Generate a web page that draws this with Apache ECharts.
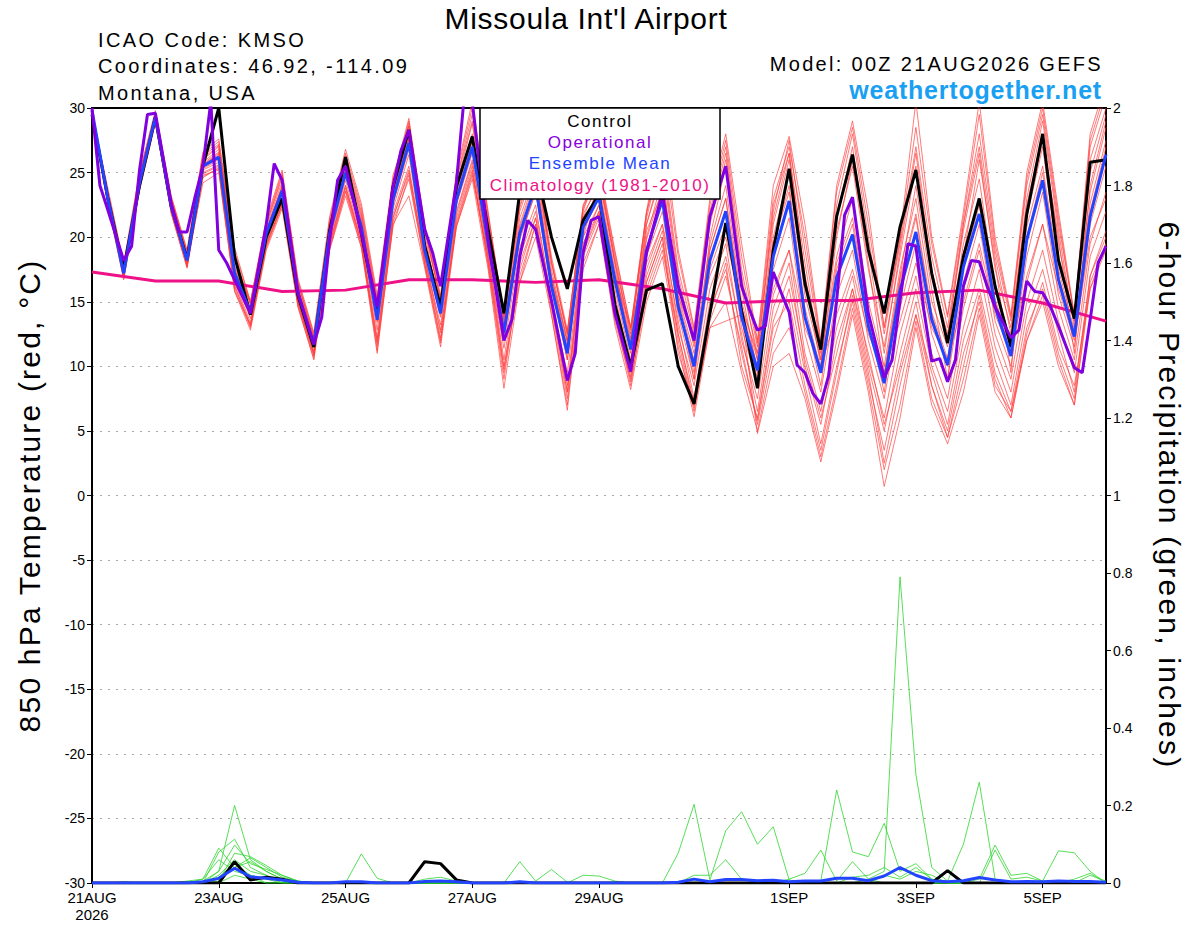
<!DOCTYPE html>
<html><head><meta charset="utf-8">
<script src="https://cdn.jsdelivr.net/npm/echarts@6/dist/echarts.min.js"></script>
<style>html,body{margin:0;padding:0;background:#fff}#c{width:1200px;height:927px}</style>
</head><body><div id="c"></div>
<script>
// ---------- DATA ----------
const stepHours = 6; // 6-hourly ensemble output, 65 steps from 00Z 21AUG
const tickHours = [0, 48, 96, 144, 192, 264, 312, 360];
const tickLabels = ['21AUG\n2026', '23AUG', '25AUG', '27AUG', '29AUG', '1SEP', '3SEP', '5SEP'];

// Ensemble mean (blue)
const meanTemp = [29.8,23,17.2,24.2,29.3,22.4,18.2,25.5,26.2,17.2,14.2,20.3,23.6,15.7,11.7,20.3,25,20.8,13.6,22.9,27.3,19,14.1,22.9,27,19.5,12.6,20.3,24,16.2,11,20.8,23.1,16.7,11.3,19,22.9,14.6,10,18.2,22,13.8,9.7,18.5,22.8,13.8,9.5,16.9,20.2,13.1,8.7,15.9,20.4,13.6,10.1,17.7,21.8,14.6,10.8,19.8,24.4,16.7,12.3,21.6,26.4];
// Control (black)
const controlTemp = [29.5,23,17.5,24,29.3,22.4,18.3,25.5,30,18.5,14,20,23,15.5,11.5,20.5,26.2,20.3,14.1,23.9,28.3,19.3,14.6,23.9,27.8,20.6,14.1,23.5,25.5,20,16,21.3,23.3,14.8,10,15.9,16.4,10,7.1,14.1,21.1,14.3,8.3,19,25.3,16.4,11.3,21.6,26.4,19,14.1,20.8,25.2,17.2,11.8,18.5,23,16.2,11.5,21.8,28,18.2,13.7,25.8,26];
// Operational (purple), 3-hourly where resolved
const opHours = [0,3,6,12,15,18,21,24,30,33,36,39,42,45,48,51,54,60,66,69,72,78,84,87,90,93,96,102,108,114,117,120,126,129,132,138,141,144,150,156,159,162,165,168,174,180,183,186,189,192,198,204,210,216,222,228,234,240,246,249,252,255,258,261,264,267,270,273,276,279,282,285,288,294,300,303,306,309,312,315,318,321,324,327,330,333,336,339,342,348,351,354,357,360,363,366,369,372,375,378,381,384];
const opTemp = [30,24,22.1,18.2,19.3,25.2,29.5,29.6,22.6,20.4,20.4,23.1,25.5,30.5,19,18,16.7,14.1,21,25.7,24.4,15.7,11.7,13.8,19.8,24.4,25.5,20.3,14.6,23.9,26.7,28.3,20.6,18.8,16.2,24.2,31,30.5,19.8,12,13.6,18.5,21.3,20.6,15.1,8.9,11,18.8,21.3,21.6,14.1,9.6,18.8,23.4,16.2,12,21.6,25.5,16.2,14.4,12.8,13.1,17.3,15.7,14.2,10.1,9.5,7.9,7.1,9.3,15.1,21.7,23.1,14.1,9.1,10.5,15.1,19.5,19.3,14.4,10.4,10.6,8.8,10.5,16.2,18.2,18.1,16.2,14.6,12.2,12.8,16.6,15.8,15.7,14.6,13.1,11.5,9.9,9.5,13.6,18,19.3];
// Climatology (daily)
const climHours = [0,24,48,72,96,120,144,168,192,216,240,264,288,312,336,360,384];
const climTemp = [17.3,16.6,16.6,15.8,15.9,16.7,16.7,16.5,16.7,16.0,14.9,15.1,15.1,15.7,15.9,14.9,13.5];

// Ensemble members (red)
const m1 = [29.6,23.5,17.8,24.8,29.6,23,18.8,26.3,27.2,18.6,14.8,21,24.6,16.4,12.3,21.2,26.3,22,15,24.2,29,20.5,15.3,24.5,29.5,21.5,14,22.5,26,18,12.5,22.5,25,18,12.8,21.5,26.5,17.5,12.5,22,27,17.5,11.5,22,27.5,19,11.5,22.5,28,20,12.5,19.5,27,18.5,13,21,28,19,13.5,24,29.5,21,14,27,31];
const m2 = [29.9,22.6,16.8,23.6,28.8,21.8,17.6,24.6,25.4,16,13,19.4,22.6,14.8,10.8,19.2,23.6,19.5,11.2,21.2,24.5,18,12,21,25,18,9.5,17,21,14.5,7.5,18.5,21.5,14,8.5,16,19.5,12,6.5,13.5,17,11.5,5.5,12,16,9.5,4,10,15,9,3.5,9.5,14,9.5,5.5,12,16,10.5,7,14,17.5,12.5,8,17,20.5];
const m3 = [29.7,23.2,17.5,24.5,29.4,22.8,18.5,25.8,26.8,17.8,14.5,20.6,24,16,12,20.8,25.4,21.2,14,23.5,28,19.6,14.8,23.6,28,20.2,13.2,21,24.8,17,11.8,21.8,24,17.5,12,20,24.5,15.5,11,19.5,24,15,10.5,20,25,15.5,10.5,18.5,23,15,10,17.5,23,15,11.5,19.5,24.5,16,12,21.5,27,18,13.5,23.5,28.5];
const m4 = [29.8,22.8,17,23.9,29,22.2,18,25.2,25.8,16.8,13.7,19.8,23,15.2,11.2,19.8,24.4,20,12.8,22.2,26.4,18.4,13.2,22,26,18.5,11.4,19.2,22.5,15,9.5,19.5,22,15.5,10,17.5,21,13,8.5,16,19.5,12,7.5,15.5,19,11,6.5,13,17,10.5,6,12.5,17,11,7.5,14.5,19,12.5,9,16.5,21,14.5,10.5,19.5,23.5];
const m5 = [29.5,23.8,18,25,29.8,23.2,19,26.6,27.6,19.2,15,21.4,25.2,16.8,12.6,21.6,26.8,22.6,15.5,24.8,28.6,21,15.5,25,30.5,22,13.8,23,26.5,18.5,12.8,22,25.5,19,13,22,28.8,19,13,23,28,19.5,12,24,27.8,21,12,24,29,22,13,20,30.5,20,14,22,30.5,20,14,25,30.5,22,14,28,32];
const m6 = [29.8,22.9,17.1,24,29.1,22,17.8,24.8,25.2,15.8,12.8,19,22.2,14.6,10.6,19,23.2,19.2,11,21,23.2,17.6,11.5,20.8,24.5,17.5,8.3,16.5,20,14,6.6,18,21,13.2,8.2,15,18.5,11.5,6.1,13,13.5,14,4.8,10,11,7.5,2.6,8,14,8,0.7,6,13,7,4,8,14,8,6,12,15,10,7,16,19];
const m7 = [29.7,23.3,17.4,24.3,29.5,22.6,18.4,25.6,26.4,17.5,14.3,20.4,23.8,15.9,11.9,20.5,25.2,21,14.5,23.5,27.5,19.8,14.5,23,27.5,20,12,20,23.5,16.5,10.5,21,23.8,17,11.5,20.5,23.5,15,9.5,19,23,14.5,9,19.5,23.5,14,8.5,17.5,21,13.5,8,16.5,21.5,14,10,18,22.5,15,11,20,25,17,12.5,22,27];
const m8 = [29.8,22.7,16.9,23.8,29,22.1,17.9,25,25.6,16.5,13.4,19.6,22.8,15,11,19.6,24,19.8,12.2,21.8,25.5,18.3,12.6,21.8,25.8,18.8,10.5,18.5,22,15.2,8.5,19.5,22.5,15,9.5,17,20.5,13.5,7.5,15,18.5,12.5,6.5,14.5,18,10,5.5,12,16,10,5,11,16,10,6.5,13,17.5,11.5,8,15,19,13.5,9.5,18.5,22];
const m9 = [29.6,23.4,17.6,24.6,29.6,22.9,18.6,26,27,18.2,14.8,20.8,24.3,16.2,12.2,21,25.8,21.6,14.6,24,28.6,20.2,14.4,24,28.8,21,13.5,22,25.5,17.5,12,21.5,24.5,18.5,12.5,21,25.5,16.5,11.5,21,26,16.5,11,21.5,26.5,17,11,20.5,25.5,17.5,11.5,18.5,25.5,17,12.5,20.5,26.5,17.5,13,22.5,28,19.5,13.5,25,29.5];
const m10 = [29.8,23,17.2,24.1,29.2,22.3,18.1,25.3,26,17,14,20.1,23.3,15.5,11.5,20.1,24.7,20.5,13.5,22.6,26.8,18.8,13.8,22.5,26.5,19.2,12.5,19.8,23.5,16,10.5,20.5,23,16,10.5,18.5,22,14,9,17.5,21,13,8.5,17.5,21.5,12.5,8,15.5,19,12,7.5,14.5,19.5,12.5,9,16.5,21,13.5,10,18.5,23.5,15.5,11.5,21,25.5];
const m11 = [29.8,22.8,17,24,29.2,22.5,18,24.2,25,15.8,13.2,19.5,22.5,15,11,19.5,24,19.5,11.8,21.5,25,18.5,12.8,20.8,24.8,18.5,10,16.5,21,15,8,19,22,14.5,9.2,16.5,20,12.5,7.2,14.5,17.5,11,5.8,13,15,8.5,3.5,9.5,15.5,9.5,2.5,8.5,14,8.5,4.5,10,15.5,9.5,6.5,13,16,11,7.5,17,20];
const m12 = [29.7,23.6,17.9,24.9,29.7,23.1,18.9,26.4,27.4,18.9,15,21.2,25,16.6,12.5,21.4,26.5,22.3,15.2,24.5,29.2,20.8,15,24.8,30,21.8,14,22.8,26.2,18.2,12.4,22.2,25.2,18.8,13,21.8,27.5,18.5,12.8,22.5,27.5,18.5,11.8,23,27,20,11.8,23.5,28.5,21,13,19.8,28.5,19.5,13.8,21.5,29.5,19.5,13.8,24.5,30,21.5,13.8,27.5,31.5];
const m13 = [29.7,23.1,17.3,24.4,29.4,22.6,18.3,25.6,26.5,17.4,14.4,20.5,23.9,15.9,11.8,20.6,25.5,21.4,13.8,23.2,27.8,19.4,14.2,23.4,27.8,19.8,12.8,21.5,25,16.8,11.5,20,24.5,18,11,21,25,15,9,20,25.5,16,9.5,21,26,17,10,20,26,18,9.5,17,24,16,9,18.5,26,18,9.5,22,27.5,20,11,24,29];
const m14 = [29.9,22.5,16.7,23.7,28.9,21.9,17.7,24.7,25.3,16.2,13.1,19.2,22.4,14.6,10.5,19.1,23.5,19.2,11.6,20.8,24.8,17.8,11.8,21.5,25.5,17.8,9,17.5,21.5,14,7,17.5,21,13.5,9,16.5,20,11,7,14,18,10,6,13.5,17,10.5,6,11,16,11,5.5,10,15,8.5,5,11,15,9,6,12.5,16.5,11.5,8.5,16,19.5];
const m15 = [29.8,23.1,17.3,24.2,29.3,22.5,18.3,25.4,26.1,17.1,14.1,20.2,23.5,15.6,11.6,20.2,24.8,20.6,13.4,22.8,27,19.2,14,22.6,26.8,19.8,13,20.5,23.8,17,12,20,22.5,17,13,18,21,15.5,12,17,20,14.5,11,16,19,13,10,14,17.5,12.5,9.5,13.5,18,13,10.5,15,19.5,14,11,17,21,16,12,20,23];
const m16 = [29.6,23.4,17.7,24.7,29.5,22.9,18.7,26.1,27.1,18.3,14.9,21,24.8,16.5,12.2,21.1,26,21.8,14.8,24.4,28.8,20.6,15.2,24.4,29,21.2,13.6,22.3,25.8,18,12.6,22.4,25.2,18.2,12.2,22,26,17,11.8,21.5,26.5,17,10.5,22.5,26.5,18,10.5,21.5,27,19,11,19,26.5,17.5,12,21,27,18.5,12.5,23,29,20.5,13,26,30];
const m17 = [29.8,22.9,17,23.9,29,22,17.7,24.9,25.5,16.3,13.2,19.3,22.5,14.9,10.9,19.4,23.8,19.6,12,21.5,25.2,18,12.2,21.2,25.2,18.2,9.8,18,21.5,14.8,8,18.8,21.8,14.5,8.8,15.5,19,12.5,6.8,13,15,9.5,5,11,13,8,3,8.5,14.5,8.5,2,7,13.5,7.5,4.5,9,14.5,8.5,6.5,12,15.5,10.5,7,16.5,19.5];
const m18 = [29.7,23.2,17.4,24.4,29.4,22.7,18.4,25.7,26.6,17.6,14.4,20.5,23.9,15.9,11.9,20.6,25.3,21.1,13.9,23.3,27.6,19.4,14.4,23.2,27.4,19.9,12.9,20.8,24.4,16.6,11.2,21.2,23.6,17.2,11.8,19.8,23.8,15.2,10.5,19,23,14.5,10,19.5,24,14.5,9.8,18,21.5,14,9.2,16.8,21.8,14.2,10.6,18.8,23,15.2,11.4,20.8,25.5,17.5,12.8,22.6,27.5];

// Precipitation (inches per 6 h)
const controlPrecip = [0,0,0,0,0,0,0,0,0,.055, .008,.015,.01,0,0,0,0,0,0,0, 0,.055,.05,.008,0,0,0,0,0,0, 0,0,0,0,0,0,0,0,0,0, 0,0,0,0,0,0,0,0,0,0, 0,0,0,0,.032,0,0,0,0,0, 0,0,0,0,0];
const meanPrecip = [0,0,0,0,0,0,0,.003,.012,.038, .016,.012,.008,.002,0,0,.003,.003,0,0, 0,.004,.005,.003,0,0,0,.003,0,0, 0,0,0,0,0,0,0,.002,.01,.003, .009,.009,.006,.007,.003,.005,.005,.012,.012,.006, .018,.04,.02,.006,.003,.006,.014,.008,.003,.004, .003,.005,.004,.004,.002];
const g1 = [0,0,0,0,0,0,0,.005,.03,.2, .06,.03,.01,0,0,0,0,0,0,0, 0,0,0,0,0,0,0,0,0,0, 0,0,0,0,0,0,0,0,0,0, 0,0,0,0,0,0,0,0,0,.01, .03,.79,.28,.04,.005,0,0,0,0,0, 0,0,0,0,0];
const g2 = [0,0,0,0,0,0,0,.01,.09,.04, .065,.04,.015,.005,0,0,0,0,0,0, 0,0,0,0,0,0,0,0,0,0, 0,0,0,0,0,0,0,.077,.203,.008, .135,.184,.1,.145,.008,0,0,0,0,0, 0,0,0,0,0,0,0,0,0,0, 0,0,0,0,0];
const g3 = [0,0,0,0,0,0,0,0,.08,.113, .04,.02,.005,0,0,0,0,0,0,0, 0,0,0,0,0,0,0,0,0,0, 0,0,0,0,0,0,0,0,0,0, 0,0,0,0,0,0,.005,.24,.08,.068, .154,.03,.05,.01,0,0,0,0,0,0, 0,0,0,0,0];
const g4 = [0,0,0,0,0,0,0,0,.03,.098, .05,.035,.02,.005,0,0,0,0,0,0, 0,0,0,0,0,0,0,0,0,0, 0,0,0,0,0,0,0,0,0,0, 0,0,0,0,0,0,0,0,0,0, 0,0,0,0,.005,.1,.26,.01,0,0, 0,0,0,0,0];
const g5 = [0,0,0,0,0,0,0,0,.005,.077, .068,.045,.02,.005,0,0,0,.075,.012,0, 0,0,0,0,0,0,0,0,0,0, 0,0,0,0,0,0,0,0,.02,.02, .06,.01,0,0,0,0,0,0,0,0, 0,0,0,0,0,0,0,0,0,0, 0,0,0,0,0];
const g6 = [0,0,0,0,0,0,0,0,.02,.06, .03,.02,0,0,0,0,0,0,0,0, 0,0,0,0,0,0,0,.055,.005,.035, .002,0,0,0,0,0,0,0,0,0, 0,0,0,0,.01,.025,.085,.005,.055,.01, 0,0,0,0,0,0,0,0,0,0, 0,0,0,0,0];
const g7 = [0,0,0,0,0,0,0,0,.01,.04, .055,.03,.01,0,0,0,0,0,0,0, 0,0,0,0,0,0,0,0,0,0, 0,.02,.018,.005,0,0,0,0,0,0, 0,0,0,0,0,0,0,0,0,0, 0,0,0,0,0,0,.01,.098,.02,.025, .005,.083,.078,.03,0];
const g8 = [0,0,0,0,0,0,0,0,0,.02, .01,0,0,0,0,0,0,0,0,0, 0,.01,.015,.005,0,0,0,0,0,0, 0,0,0,0,0,0,0,0,0,0, 0,0,0,0,0,0,0,0,0,0, 0,0,0,0,0,0,0,.085,.01,.015, .005,0,0,.02,.005];
const g9 = [0,0,.003,0,0,0,0,0,.015,.05, .02,.01,0,0,0,0,0,0,0,0, 0,0,0,0,0,0,0,0,0,0, 0,0,0,0,0,0,0,0,0,0, 0,0,0,0,0,0,0,0,.015,.02, .04,.015,.04,.01,0,0,0,0,0,0, 0,0,0,0,0];
const g10 = [0,0,0,0,0,0,.005,.01,.06,.03, .02,0,0,0,0,0,0,0,0,0, 0,0,0,0,0,0,0,0,0,0, 0,0,0,0,0,0,0,0,0,0, 0,0,0,0,0,0,0,0,0,0, .02,.01,.03,.02,0,0,0,0,0,0, 0,0,.01,.025,0];

const redMembers = [m1, m2, m3, m4, m5, m6, m7, m8, m9, m10, m11, m12, m13, m14, m15, m16, m17, m18];
const greenMembers = [g1, g2, g3, g4, g5, g6, g7, g8, g9, g10];

// ---------- CHART ----------
const FONT = 'Liberation Sans, Arial, Helvetica, sans-serif';
const pairs = arr => arr.map((v, i) => [i * stepHours, v]);
const zip = (xs, ys) => xs.map((x, i) => [x, ys[i]]);

const series = [];
redMembers.forEach((m, k) => series.push({
  type: 'line', name: 'member' + (k + 1), data: pairs(m), showSymbol: false, silent: true,
  lineStyle: { color: '#ff3b3b', width: 0.8, opacity: 0.85 }, z: 2
}));
greenMembers.forEach((g, k) => series.push({
  type: 'line', name: 'precip' + (k + 1), yAxisIndex: 1, data: pairs(g), showSymbol: false, silent: true,
  lineStyle: { color: '#2fd62f', width: 0.8 }, z: 3
}));
series.push({ type: 'line', name: 'Control precip', yAxisIndex: 1, data: pairs(controlPrecip), showSymbol: false,
  lineStyle: { color: '#000', width: 3 }, z: 5 });
series.push({ type: 'line', name: 'Mean precip', yAxisIndex: 1, data: pairs(meanPrecip), showSymbol: false,
  lineStyle: { color: '#2244ff', width: 3 }, z: 6 });
series.push({ type: 'line', name: 'Climatology (1981-2010)', data: zip(climHours, climTemp), showSymbol: false,
  lineStyle: { color: '#ee1188', width: 3 }, z: 4 });
series.push({ type: 'line', name: 'Control', data: pairs(controlTemp), showSymbol: false,
  lineStyle: { color: '#000', width: 3 }, z: 5 });
series.push({ type: 'line', name: 'Ensemble Mean', data: pairs(meanTemp), showSymbol: false,
  lineStyle: { color: '#2244ff', width: 3 }, z: 6 });
series.push({ type: 'line', name: 'Operational', data: zip(opHours, opTemp), showSymbol: false,
  lineStyle: { color: '#8000e0', width: 3 }, z: 7 });

const chart = echarts.init(document.getElementById('c'), null, { renderer: 'svg' });
chart.setOption({
  animation: false,
  backgroundColor: '#fff',
  textStyle: { fontFamily: FONT },
  grid: { left: 92, right: 94, top: 108, bottom: 44, show: true, borderColor: '#000', borderWidth: 2, backgroundColor: 'transparent' },
  xAxis: {
    type: 'value', min: 0, max: 384,
    axisLine: { show: true, onZero: false, lineStyle: { color: '#000', width: 2 } },
    axisTick: { show: true, customValues: tickHours, length: 5, lineStyle: { color: '#000', width: 1 } },
    axisLabel: { customValues: tickHours, color: '#000', fontSize: 15, fontFamily: FONT, margin: 6, lineHeight: 17,
      formatter: v => tickLabels[tickHours.indexOf(v)] || '' },
    splitLine: { show: false }
  },
  yAxis: [
    {
      type: 'value', min: -30, max: 30, interval: 5, position: 'left',
      name: '850 hPa Temperature (red, \u00B0C)', nameLocation: 'middle', nameRotate: 90, nameGap: 48,
      nameTextStyle: { fontSize: 30, color: '#000', fontFamily: FONT },
      axisLine: { show: true, lineStyle: { color: '#000', width: 2 } },
      axisTick: { show: true, length: 5, lineStyle: { color: '#000' } },
      axisLabel: { color: '#000', fontSize: 14, fontFamily: FONT, margin: 7 },
      splitLine: { show: true, showMinLine: false, showMaxLine: false, lineStyle: { color: '#aaa', type: [2, 6], width: 1.2 } }
    },
    {
      type: 'value', min: 0, max: 2, interval: 0.2, position: 'right',
      name: '6-hour Precipitation (green, inches)', nameLocation: 'middle', nameRotate: -90, nameGap: 48,
      nameTextStyle: { fontSize: 30, color: '#000', fontFamily: FONT },
      axisLine: { show: true, lineStyle: { color: '#000', width: 2 } },
      axisTick: { show: true, length: 5, lineStyle: { color: '#000' } },
      axisLabel: { color: '#000', fontSize: 14, fontFamily: FONT, margin: 7, formatter: v => String(+v.toFixed(1)) },
      splitLine: { show: false }
    }
  ],
  graphic: [
    { type: 'text', z: 100, x: 586, y: 18, style: { text: "Missoula Int'l Airport", fontSize: 30, fill: '#000', fontFamily: FONT, textAlign: 'center', textVerticalAlign: 'middle' } },
    { type: 'text', z: 100, x: 98, y: 40, style: { text: 'ICAO Code: KMSO', fontSize: 20, fill: '#000', fontFamily: FONT, textVerticalAlign: 'middle' } },
    { type: 'text', z: 100, x: 98, y: 66, style: { text: 'Coordinates: 46.92, -114.09', fontSize: 20, fill: '#000', fontFamily: FONT, textVerticalAlign: 'middle' } },
    { type: 'text', z: 100, x: 98, y: 93, style: { text: 'Montana, USA', fontSize: 20, fill: '#000', fontFamily: FONT, textVerticalAlign: 'middle' } },
    { type: 'text', z: 100, x: 1103, y: 64, style: { text: 'Model: 00Z 21AUG2026 GEFS', fontSize: 20, fill: '#000', fontFamily: FONT, textAlign: 'right', textVerticalAlign: 'middle' } },
    { type: 'text', z: 100, x: 1102, y: 90, style: { text: 'weathertogether.net', fontSize: 25, fontWeight: 'bold', fill: '#19a0f2', fontFamily: FONT, textAlign: 'right', textVerticalAlign: 'middle' } },
    { type: 'rect', z: 100, shape: { x: 480, y: 108, width: 240, height: 91 }, style: { fill: '#fff', stroke: '#000', lineWidth: 1.5 } },
    { type: 'text', z: 101, x: 600, y: 121, style: { text: 'Control', fontSize: 17, fill: '#000', fontFamily: FONT, textAlign: 'center', textVerticalAlign: 'middle' } },
    { type: 'text', z: 101, x: 600, y: 142, style: { text: 'Operational', fontSize: 17, fill: '#8800dd', fontFamily: FONT, textAlign: 'center', textVerticalAlign: 'middle' } },
    { type: 'text', z: 101, x: 600, y: 163, style: { text: 'Ensemble Mean', fontSize: 17, fill: '#2244ff', fontFamily: FONT, textAlign: 'center', textVerticalAlign: 'middle' } },
    { type: 'text', z: 101, x: 600, y: 185, style: { text: 'Climatology (1981-2010)', fontSize: 17, fill: '#ee1188', fontFamily: FONT, textAlign: 'center', textVerticalAlign: 'middle' } }
  ],
  series: series
});

// Letter spacing to match the wide lettering of the original plot
const spacing = {
  "Missoula Int'l Airport": '0.7px',
  'ICAO Code: KMSO': '2.4px',
  'Coordinates: 46.92, -114.09': '2.4px',
  'Montana, USA': '2.4px',
  'Model: 00Z 21AUG2026 GEFS': '2.3px',
  'weathertogether.net': '0.8px',
  'Control': '1.5px', 'Operational': '1.5px', 'Ensemble Mean': '1.5px', 'Climatology (1981-2010)': '1.5px',
  '850 hPa Temperature (red, \u00B0C)': '2.2px',
  '6-hour Precipitation (green, inches)': '2.2px'
};
function applySpacing() {
  document.querySelectorAll('#c svg text').forEach(t => {
    const s = spacing[t.textContent.trim()];
    if (s) t.style.letterSpacing = s;
  });
}
applySpacing();
chart.on('finished', applySpacing);
</script></body></html>
